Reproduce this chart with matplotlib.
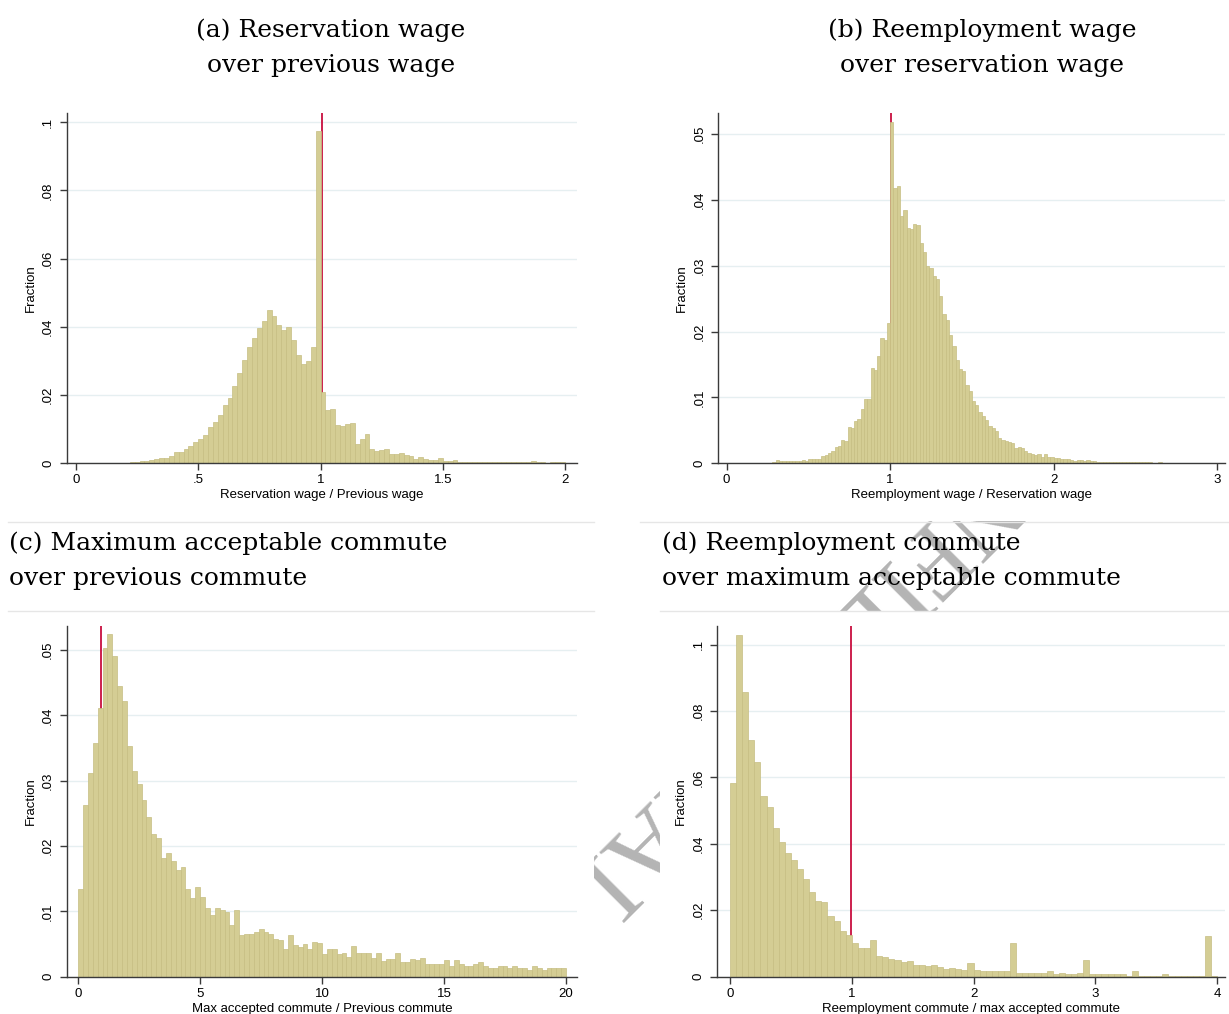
import matplotlib
matplotlib.use("Agg")
import matplotlib.pyplot as plt
import matplotlib.transforms as mtransforms
import numpy as np
from matplotlib.patches import Rectangle
from matplotlib.lines import Line2D

# Fractions (bin width and first bin edge per panel)
a_start, a_width = 0.20, 0.02
a_frac = [
    0.0001, 0.0002, 0.0002, 0.0005, 0.0006, 0.0009, 0.0012, 0.0016, 0.0016, 0.0022,
    0.0031, 0.0033, 0.0042, 0.0049, 0.0063, 0.0071, 0.0081, 0.0107, 0.0121, 0.0142,
    0.0170, 0.0192, 0.0227, 0.0265, 0.0302, 0.0339, 0.0368, 0.0395, 0.0417, 0.0449,
    0.0432, 0.0406, 0.0390, 0.0400, 0.0362, 0.0318, 0.0290, 0.0298, 0.0339, 0.0975,
    0.0207, 0.0155, 0.0157, 0.0111, 0.0108, 0.0114, 0.0116, 0.0055, 0.0071, 0.0084,
    0.0042, 0.0034, 0.0039, 0.0042, 0.0027, 0.0025, 0.0030, 0.0024, 0.0020, 0.0013,
    0.0018, 0.0013, 0.0008, 0.0010, 0.0016, 0.0006, 0.0005, 0.0008, 0.0004, 0.0003,
    0.0003, 0.0002, 0.0002, 0.0002, 0.0002, 0.0002, 0.0002, 0.0002, 0.0002, 0.0002,
    0.0002, 0.0002, 0.0002, 0.0005, 0.0002, 0.0002, 0.0001, 0.0002, 0.0002, 0.0002,
]

b_start, b_width = 0.28, 0.02
b_frac = [
    0.0002, 0.0005, 0.0003, 0.0003, 0.0003, 0.0003, 0.0003, 0.0003, 0.0003, 0.0005,
    0.0004, 0.0006, 0.0006, 0.0007, 0.0007, 0.0011, 0.0012, 0.0016, 0.0019, 0.0024,
    0.0026, 0.0035, 0.0034, 0.0055, 0.0053, 0.0064, 0.0067, 0.0083, 0.0097, 0.0097,
    0.0145, 0.0142, 0.0163, 0.0190, 0.0187, 0.0213,
    0.0518, 0.0418, 0.0421, 0.0375, 0.0385, 0.0358, 0.0356, 0.0364, 0.0362, 0.0334,
    0.0321, 0.0300, 0.0297, 0.0284, 0.0280, 0.0254, 0.0227, 0.0218, 0.0195, 0.0178,
    0.0157, 0.0143, 0.0140, 0.0119, 0.0110, 0.0095, 0.0089, 0.0078, 0.0072, 0.0066,
    0.0056, 0.0053, 0.0049, 0.0039, 0.0036, 0.0034, 0.0032, 0.0031, 0.0023, 0.0025,
    0.0023, 0.0019, 0.0016, 0.0014, 0.0013, 0.0014, 0.0010, 0.0014, 0.0010, 0.0009,
    0.0008, 0.0008, 0.0007, 0.0007, 0.0006, 0.0005, 0.0004, 0.0005, 0.0005, 0.0004,
    0.0005, 0.0004, 0.0003,
    0.0002, 0.0002, 0.0002, 0.0002, 0.0002, 0.0002, 0.0002, 0.0002, 0.0002, 0.0002,
    0.0002, 0.0002, 0.0002, 0.0002, 0.0002, 0.0002, 0.0002,
    0.0001, 0.0001, 0.0002, 0.0001, 0.0001, 0.0001, 0.0001, 0.0001, 0.0001, 0.0001,
    0.0001, 0.0001, 0.0001, 0.0001, 0.0001, 0.0001, 0.0001, 0.0001, 0.0001, 0.0001,
]

c_start, c_width = 0.0, 0.2
c_frac = [
    0.0134, 0.0263, 0.0312, 0.0358, 0.0411, 0.0503, 0.0524, 0.0491, 0.0445, 0.0422,
    0.0353, 0.0315, 0.0295, 0.0270, 0.0244, 0.0218, 0.0213, 0.0181, 0.0189, 0.0177,
    0.0164, 0.0168, 0.0134, 0.0121, 0.0137, 0.0122, 0.0105, 0.0094, 0.0105, 0.0102,
    0.0099, 0.0079, 0.0102, 0.0064, 0.0065, 0.0065, 0.0068, 0.0073, 0.0068, 0.0065,
    0.0057, 0.0056, 0.0042, 0.0064, 0.0049, 0.0045, 0.0050, 0.0042, 0.0053, 0.0051,
    0.0034, 0.0043, 0.0042, 0.0034, 0.0037, 0.0030, 0.0047, 0.0037, 0.0037, 0.0036,
    0.0028, 0.0037, 0.0024, 0.0027, 0.0027, 0.0036, 0.0022, 0.0022, 0.0027, 0.0025,
    0.0028, 0.0019, 0.0019, 0.0020, 0.0019, 0.0025, 0.0017, 0.0025, 0.0020, 0.0016,
    0.0017, 0.0020, 0.0022, 0.0016, 0.0013, 0.0014, 0.0016, 0.0017, 0.0013, 0.0016,
    0.0013, 0.0013, 0.0011, 0.0017, 0.0014, 0.0011, 0.0014, 0.0013, 0.0013, 0.0013,
]

d_start, d_width = 0.0, 0.05
d_frac = [
    0.0582, 0.1029, 0.0857, 0.0712, 0.0647, 0.0544, 0.0510, 0.0447, 0.0406, 0.0371,
    0.0351, 0.0323, 0.0294, 0.0254, 0.0228, 0.0224, 0.0183, 0.0168, 0.0137, 0.0125,
    0.0101, 0.0087, 0.0085, 0.0112, 0.0062, 0.0058, 0.0052, 0.0050, 0.0043, 0.0046,
    0.0034, 0.0034, 0.0032, 0.0034, 0.0028, 0.0022, 0.0025, 0.0022, 0.0019, 0.0040,
    0.0020, 0.0017, 0.0017, 0.0017, 0.0017, 0.0017, 0.0100, 0.0010, 0.0010, 0.0010,
    0.0010, 0.0010, 0.0017, 0.0007, 0.0010, 0.0007, 0.0007, 0.0010, 0.0049, 0.0007,
    0.0007, 0.0007, 0.0007, 0.0007, 0.0007, 0.0003, 0.0017, 0.0003, 0.0003, 0.0003,
    0.0003, 0.0007, 0.0003, 0.0003, 0.0003, 0.0003, 0.0003, 0.0003, 0.0123, 0.0002,
]

a_xticks = [0, 0.5, 1, 1.5, 2]
a_xticklabels = ["0", ".5", "1", "1.5", "2"]
a_yticks = [0, 0.02, 0.04, 0.06, 0.08, 0.1]
a_yticklabels = ["0", ".02", ".04", ".06", ".08", ".1"]
b_xticks = [0, 1, 2, 3]
b_xticklabels = ["0", "1", "2", "3"]
b_yticks = [0, 0.01, 0.02, 0.03, 0.04, 0.05]
b_yticklabels = ["0", ".01", ".02", ".03", ".04", ".05"]
c_xticks = [0, 5, 10, 15, 20]
c_xticklabels = ["0", "5", "10", "15", "20"]
c_yticks = b_yticks
c_yticklabels = b_yticklabels
d_xticks = [0, 1, 2, 3, 4]
d_xticklabels = ["0", "1", "2", "3", "4"]
d_yticks = a_yticks
d_yticklabels = a_yticklabels

BAR = "#d4cd94"
EDGE = "#c6be82"
RED = "#cc1f4d"
GRID = "#e6eff1"
AXC = "#3a3a3a"
SANS = "Liberation Sans"
SERIF = "DejaVu Serif"

W, H = 1229, 1014
fig = plt.figure(figsize=(W / 100, H / 100), dpi=100)


def px_box(l, r, t, b):
    return [l / W, 1 - b / H, (r - l) / W, (b - t) / H]


def hist_panel(box, start, width, frac, xlim, ylim, xt, xtl, yt, ytl, xlabel, nudge):
    ax = fig.add_axes(box)
    edges = start + width * np.arange(len(frac))
    ax.bar(edges, frac, width=width, align="edge", color=BAR,
           edgecolor=EDGE, linewidth=0.5, zorder=2)
    # reference line at 1, drawn behind the bars (nudged a pixel like Stata's output)
    tr = mtransforms.offset_copy(ax.get_xaxis_transform(), fig=fig, x=nudge, units="dots")
    ax.plot([1, 1], [0, 1], color=RED, lw=1.4, zorder=1.5, transform=tr)
    ax.set_xlim(*xlim)
    ax.set_ylim(*ylim)
    ax.set_xticks(xt)
    ax.set_xticklabels(xtl, fontsize=9.5, family=SANS)
    ax.set_yticks(yt)
    ax.set_yticklabels(ytl, fontsize=9.5, family=SANS, rotation=90, va="center")
    ax.yaxis.grid(True, color=GRID, lw=1)
    ax.set_axisbelow(True)
    for s in ["top", "right"]:
        ax.spines[s].set_visible(False)
    for s in ["left", "bottom"]:
        ax.spines[s].set_color(AXC)
        ax.spines[s].set_linewidth(1)
    ax.tick_params(direction="out", length=5, width=1, color=AXC, pad=3)
    ax.tick_params(axis="y", pad=4)
    ax.set_xlabel(xlabel, fontsize=9.5, family=SANS, labelpad=2)
    ax.set_ylabel("Fraction", fontsize=9.5, family=SANS, labelpad=4)
    return ax


hist_panel(px_box(66.7, 577, 113, 463), a_start, a_width, a_frac,
           (-0.038, 2.049), (0, 0.1027), a_xticks, a_xticklabels,
           a_yticks, a_yticklabels, "Reservation wage / Previous wage", 1.2)
hist_panel(px_box(718, 1225, 113, 463.3), b_start, b_width, b_frac,
           (-0.053, 3.048), (0, 0.0532), b_xticks, b_xticklabels,
           b_yticks, b_yticklabels, "Reemployment wage / Reservation wage", 1.2)
hist_panel(px_box(66.7, 577, 626, 976.7), c_start, c_width, c_frac,
           (-0.47, 20.45), (0, 0.0537), c_xticks, c_xticklabels,
           c_yticks, c_yticklabels, "Max accepted commute / Previous commute", -1.2)
hist_panel(px_box(717.3, 1225, 626, 976.7), d_start, d_width, d_frac,
           (-0.104, 4.064), (0, 0.1056), d_xticks, d_xticklabels,
           d_yticks, d_yticklabels, "Reemployment commute / max accepted commute", -1.2)

# watermark behind the panel images
fig.text(830 / W, 1 - 650 / H, "CONFIDENTIAL", rotation=225, rotation_mode="anchor",
         ha="center", va="center", fontsize=74, family="Liberation Serif",
         color="#b4b4b4", zorder=-3)

# white panel images covering the watermark
for (l, r, t, b) in [(0, 600, 95, 521), (640, 1229, 95, 521),
                     (8, 594, 611, 1014), (660, 1229, 611, 1014)]:
    fig.patches.append(Rectangle((l / W, 1 - b / H), (r - l) / W, (b - t) / H,
                                 transform=fig.transFigure, facecolor="white",
                                 edgecolor="none", zorder=-2))

for (x0, x1, y) in [(8, 594, 521.5), (640, 1229, 521.5), (8, 594, 611), (660, 1229, 611)]:
    fig.lines.append(Line2D([x0 / W, x1 / W], [1 - y / H, 1 - y / H],
                            transform=fig.transFigure, color="#e6e6e6", lw=1, zorder=-1))

# panel titles
titles = [
    (331, "center", ["(a) Reservation wage", "over previous wage"], 37),
    (982, "center", ["(b) Reemployment wage", "over reservation wage"], 37),
    (9, "left", ["(c) Maximum acceptable commute", "over previous commute"], 550),
    (662, "left", ["(d) Reemployment commute", "over maximum acceptable commute"], 550),
]
for x, ha, lines, y0 in titles:
    for i, line in enumerate(lines):
        fig.text(x / W, 1 - (y0 + 35 * i) / H, line, ha=ha, va="baseline",
                 fontsize=18, family=SERIF, color="black", zorder=5)

fig.savefig("out.png", dpi=100, facecolor="white")
